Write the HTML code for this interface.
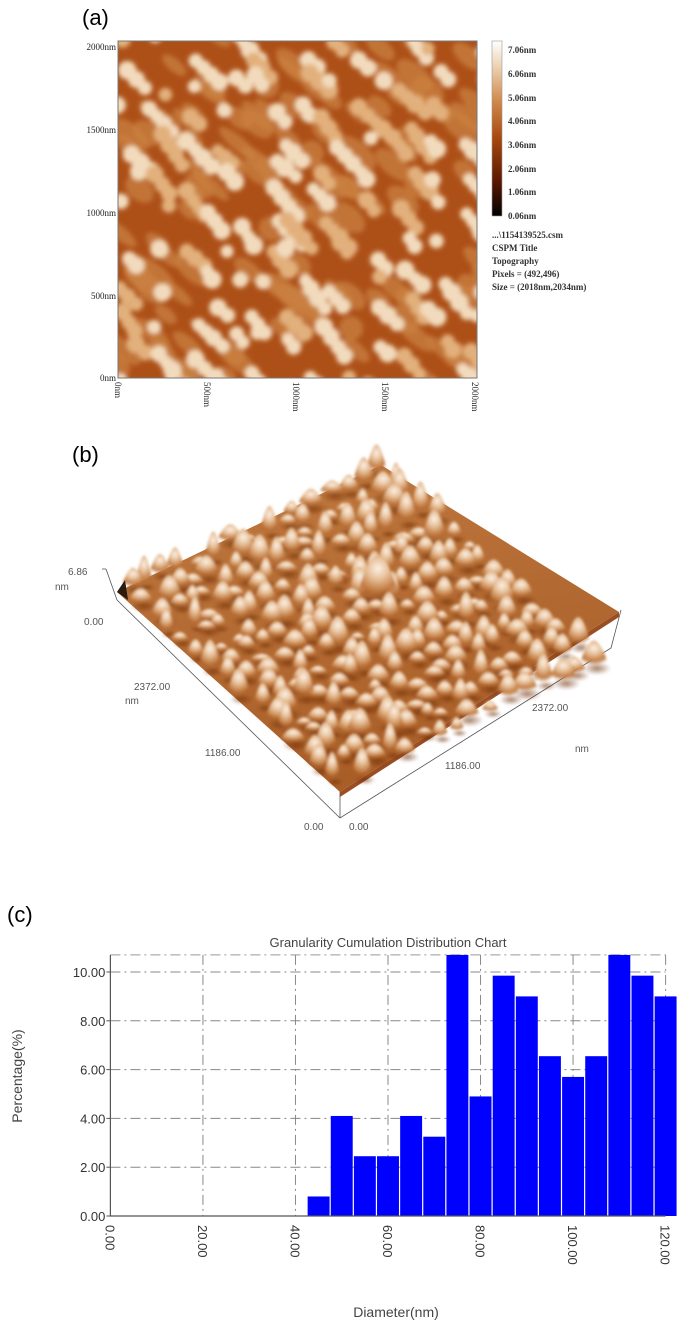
<!DOCTYPE html>
<html><head><meta charset="utf-8">
<style>
html,body{margin:0;padding:0;background:#fff;}
body{width:677px;height:1326px;position:relative;overflow:hidden;font-family:"Liberation Sans",sans-serif;}
svg{position:absolute;left:0;top:0;}
</style></head>
<body>
<svg id="root" width="677" height="1326" viewBox="0 0 677 1326">
<defs>
  <filter id="blur2" x="-20%" y="-20%" width="140%" height="140%"><feGaussianBlur stdDeviation="2.4"/></filter>
  <filter id="blur1"><feGaussianBlur stdDeviation="1.2"/></filter>
  <radialGradient id="peakG" cx="50%" cy="30%" r="65%">
    <stop offset="0" stop-color="#fbf1e6"/><stop offset="0.35" stop-color="#e8c29c"/><stop offset="0.75" stop-color="#c27c42"/><stop offset="1" stop-color="#a85a24" stop-opacity="0"/>
  </radialGradient>
  <radialGradient id="shadowG" cx="50%" cy="50%" r="50%">
    <stop offset="0" stop-color="#6e2a08" stop-opacity="0.6"/><stop offset="1" stop-color="#6e2a08" stop-opacity="0"/>
  </radialGradient>
  <linearGradient id="cbar" x1="0" y1="1" x2="0" y2="0">
    <stop offset="0" stop-color="#000"/><stop offset="0.2" stop-color="#5a1800"/><stop offset="0.45" stop-color="#a84a10"/><stop offset="0.65" stop-color="#cf8748"/><stop offset="0.85" stop-color="#ecd0b0"/><stop offset="1" stop-color="#fff"/>
  </linearGradient>
  <linearGradient id="surfG" x1="0" y1="0" x2="0.3" y2="1">
    <stop offset="0" stop-color="#c07a40"/><stop offset="1" stop-color="#a95e28"/>
  </linearGradient>
  <clipPath id="imgClip"><rect x="118" y="41" width="359" height="337"/></clipPath>
</defs>

<!-- (a) -->
<text x="82" y="25" font-size="22" font-family="Liberation Sans, sans-serif">(a)</text>
<g>
  <rect x="118" y="41" width="359" height="337" fill="#ad5018"/>
  <g id="blobs" clip-path="url(#imgClip)" filter="url(#blur2)"></g>
  <rect x="118" y="41" width="359" height="337" fill="none" stroke="#777" stroke-width="1"/>
</g>
<g font-family="Liberation Serif, serif" font-size="9" fill="#222">
  <text x="116" y="50" text-anchor="end">2000nm</text>
  <text x="116" y="133" text-anchor="end">1500nm</text>
  <text x="116" y="216" text-anchor="end">1000nm</text>
  <text x="116" y="299" text-anchor="end">500nm</text>
  <text x="116" y="381" text-anchor="end">0nm</text>
</g>
<g font-family="Liberation Serif, serif" font-size="9" fill="#222">
  <text transform="translate(115,382) rotate(90)">0nm</text>
  <text transform="translate(204,382) rotate(90)">500nm</text>
  <text transform="translate(293,382) rotate(90)">1000nm</text>
  <text transform="translate(382,382) rotate(90)">1500nm</text>
  <text transform="translate(472,382) rotate(90)">2000nm</text>
</g>
<g>
  <rect x="492" y="41" width="10" height="175" fill="url(#cbar)" stroke="#999" stroke-width="0.6"/>
  <g font-family="Liberation Serif, serif" font-size="9" font-weight="bold" fill="#333">
    <text x="508" y="53">7.06nm</text><text x="508" y="77">6.06nm</text><text x="508" y="101">5.06nm</text>
    <text x="508" y="124">4.06nm</text><text x="508" y="148">3.06nm</text><text x="508" y="172">2.06nm</text>
    <text x="508" y="195">1.06nm</text><text x="508" y="219">0.06nm</text>
  </g>
</g>
<g font-family="Liberation Serif, serif" font-size="9" font-weight="bold" fill="#333">
  <text x="492" y="238">...\1154139525.csm</text>
  <text x="492" y="251">CSPM Title</text>
  <text x="492" y="264">Topography</text>
  <text x="492" y="277">Pixels = (492,496)</text>
  <text x="492" y="290">Size = (2018nm,2034nm)</text>
</g>

<!-- (b) -->
<text x="72" y="462" font-size="22" font-family="Liberation Sans, sans-serif">(b)</text>
<g>
  <polyline points="117,600 340,818 611,648 621,610" fill="none" stroke="#555" stroke-width="0.8"/>
  <line x1="102" y1="569" x2="106" y2="569" stroke="#555" stroke-width="0.8"/>
  <line x1="106" y1="569" x2="117" y2="600" stroke="#555" stroke-width="0.8"/>
  <line x1="340" y1="790" x2="340" y2="818" stroke="#555" stroke-width="0.8"/>
  <polygon points="340,792 619,612 619,617 340,797" fill="#9a4e22"/>
  <polygon points="117,592 381,465 619,612 340,792" fill="url(#surfG)"/>
  <g id="peaks" filter="url(#blur1)"></g>
  <polygon points="117,592 125,580 128,600" fill="#2a1a10"/>
</g>
<g font-size="10" fill="#555" font-family="Liberation Sans, sans-serif">
  <text x="68" y="575">6.86</text><text x="55" y="590">nm</text>
  <text x="84" y="625">0.00</text>
  <text x="134" y="690">2372.00</text><text x="125" y="704">nm</text>
  <text x="205" y="756">1186.00</text>
  <text x="304" y="830">0.00</text><text x="349" y="830">0.00</text>
  <text x="532" y="711">2372.00</text><text x="575" y="752">nm</text>
  <text x="445" y="769">1186.00</text>
</g>

<!-- (c) -->
<text x="7" y="922" font-size="22" font-family="Liberation Sans, sans-serif">(c)</text>
<text x="388" y="947" font-size="13" fill="#444" text-anchor="middle">Granularity Cumulation Distribution  Chart</text>
<g id="chart"></g>
<text transform="translate(22,1076) rotate(-90)" font-size="14" fill="#444" text-anchor="middle">Percentage(%)</text>
<text x="396" y="1317" font-size="14" fill="#444" text-anchor="middle">Diameter(nm)</text>
</svg>
<script>
const binStarts = [42.5,47.5,52.5,57.5,62.5,67.5,72.5,77.5,82.5,87.5,92.5,97.5,102.5,107.5,112.5,117.5];
const binWidth = 5;
const percentages = [0.8,4.1,2.45,2.45,4.1,3.25,10.7,4.9,9.85,9.0,6.55,5.7,6.55,10.7,9.85,9.0];
const xTicks = [0,20,40,60,80,100,120];
const xTickLabels = ["0.00","20.00","40.00","60.00","80.00","100.00","120.00"];
const yTicks = [0,2,4,6,8,10];
const yTickLabels = ["0.00","2.00","4.00","6.00","8.00","10.00"];
const yMax = 10.7;

const NS="http://www.w3.org/2000/svg";
function mk(tag, attrs, parent){const e=document.createElementNS(NS,tag);for(const k in attrs)e.setAttribute(k,attrs[k]);parent.appendChild(e);return e;}
const X0=110.4, X1=665.6, Y0=1216, Y10=972;
const xScale=v=>X0+(X1-X0)*v/120;
const yScale=v=>Y0-(Y0-Y10)*v/10;
const chart=document.getElementById('chart');
const dash="10,4,2,4";
yTicks.forEach((t,i)=>{
  if(t>0){const g=mk('line',{x1:X0,x2:X1,y1:yScale(t),y2:yScale(t),stroke:'#888','stroke-width':1,'stroke-dasharray':dash},chart);
  
  }
  const tk=mk('line',{x1:X0-4,x2:X0,y1:yScale(t),y2:yScale(t),stroke:'#555'},chart);
  
  
  const lb=mk('text',{x:X0-5,y:yScale(t)+5,'text-anchor':'end','font-size':13,fill:'#333'},chart);
  lb.textContent=yTickLabels[i];
  
  
});
const topG=mk('line',{x1:X0,x2:X1,y1:yScale(yMax),y2:yScale(yMax),stroke:'#999','stroke-dasharray':dash},chart);


xTicks.forEach((t,i)=>{
  if(t>0){const g=mk('line',{x1:xScale(t),x2:xScale(t),y1:yScale(yMax),y2:Y0,stroke:'#888','stroke-width':1,'stroke-dasharray':dash},chart);
  
  }
  const lb=mk('text',{transform:`translate(${xScale(t)-5},${Y0+9}) rotate(90)`,'font-size':13,fill:'#333'},chart);
  lb.textContent=xTickLabels[i];
  
  
});
percentages.forEach((p,i)=>{
  const x=xScale(binStarts[i]), w=xScale(binStarts[i]+binWidth)-x;
  const r=mk('rect',{x:x+0.6,y:yScale(p),width:w-1.2,height:Y0-yScale(p),fill:'#0000ff'},chart);
  
  
});
const ax=mk('polyline',{points:`${X0},${yScale(yMax)} ${X0},${Y0} ${X1},${Y0}`,fill:'none',stroke:'#555','stroke-width':1.2},chart);



// decorative texture (not data)
let seed=777;function rnd(){seed=(seed*1103515245+12345)%2147483648;return seed/2147483648;}
const blobs=document.getElementById('blobs');
for(let i=0;i<120;i++){
  const cx=110+rnd()*380, cy=35+rnd()*350;
  mk('ellipse',{cx,cy,rx:12+rnd()*12,ry:6+rnd()*6,transform:`rotate(40 ${cx} ${cy})`,fill:'#c98040','fill-opacity':0.75},blobs);
}
// bright chains on a jittered grid for even coverage
for(let gy=0;gy<11;gy++){
  for(let gx=0;gx<11;gx++){
    let cx=110+gx*35+rnd()*30, cy=35+gy*33+rnd()*28;
    const n=1+Math.floor(rnd()*4);
    const ang=(38+rnd()*20)*Math.PI/180;
    const col=rnd()<0.7?'#f2dbbd':'#e2b07c';
    for(let k=0;k<n;k++){
      const r=6.5+rnd()*3;
      mk('circle',{cx,cy,r,fill:col},blobs);
      cx+=Math.cos(ang)*r*1.4; cy+=Math.sin(ang)*r*1.4;
    }
  }
}
const peaks=document.getElementById('peaks');
const pts=[];
for(let gu=0;gu<16;gu++){
  for(let gv=0;gv<16;gv++){
    const u=(gu+0.15+rnd()*0.7)/16, v=(gv+0.15+rnd()*0.7)/16;
    const px=117+(381-117)*u+(340-117)*v, py=592+(465-592)*u+(792-592)*v;
    pts.push([px,py,8+rnd()*24,6+rnd()*5]);
  }
}
pts.push([378,600,45,16]);
pts.sort((a,b)=>a[1]-b[1]);
pts.forEach(([px,py,h,w])=>{
  mk('ellipse',{cx:px+3,cy:py+2,rx:w*1.3,ry:w*0.6,fill:'url(#shadowG)'},peaks);
  mk('path',{d:`M${px-w*1.4},${py} Q${px-w*0.6},${py-h} ${px},${py-h} Q${px+w*0.6},${py-h} ${px+w*1.4},${py} Z`,fill:'url(#peakG)'},peaks);
});
</script>
</body></html>
